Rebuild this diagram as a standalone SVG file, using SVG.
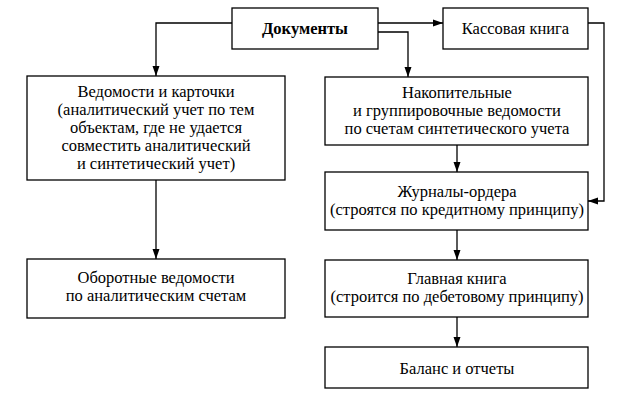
<svg xmlns="http://www.w3.org/2000/svg" width="626" height="410" viewBox="0 0 626 410">
<style>
.n{fill:#fff;stroke:#000;stroke-width:1.3}
text{font-family:'Liberation Serif','Times New Roman',serif;font-size:16.5px;fill:#000;text-anchor:middle}
.b{font-weight:bold}
.c{fill:none;stroke:#000;stroke-width:1.3}
</style>
<defs>
<marker id="a" viewBox="0 0 10 10" refX="10" refY="5" markerWidth="10" markerHeight="10" markerUnits="userSpaceOnUse" orient="auto">
<path d="M0,1.5 L10,5 L0,8.5 Z" fill="#000"/>
</marker>
</defs>
<rect width="626" height="410" fill="#fff"/>
<g id="connectors">
<path class="c" d="M232,23 H156 V76" marker-end="url(#a)"/>
<path class="c" d="M378,23 H443" marker-end="url(#a)"/>
<path class="c" d="M378,32 H408 V77" marker-end="url(#a)"/>
<path class="c" d="M588,23 H604 V201 H588" marker-end="url(#a)"/>
<path class="c" d="M156,180 V259" marker-end="url(#a)"/>
<path class="c" d="M457,145 V172" marker-end="url(#a)"/>
<path class="c" d="M457,230 V260" marker-end="url(#a)"/>
<path class="c" d="M457,317 V347" marker-end="url(#a)"/>
</g>
<g id="docs">
<rect class="n" x="232" y="8" width="146" height="41"/>
<text class="b" x="305" y="34">Документы</text>
</g>
<g id="kassa">
<rect class="n" x="443" y="8" width="145" height="41"/>
<text x="515.5" y="34">Кассовая книга</text>
</g>
<g id="vedomosti">
<rect class="n" x="27" y="76" width="258" height="104"/>
<text x="156" y="97">Ведомости и карточки</text>
<text x="156" y="115">(аналитический учет по тем</text>
<text x="156" y="133">объектам, где не удается</text>
<text x="156" y="151">совместить аналитический</text>
<text x="156" y="169">и синтетический учет)</text>
</g>
<g id="oborot">
<rect class="n" x="27" y="259" width="258" height="59"/>
<text x="156" y="283">Оборотные ведомости</text>
<text x="156" y="301">по аналитическим счетам</text>
</g>
<g id="nakop">
<rect class="n" x="325" y="77" width="263" height="68"/>
<text x="457" y="98">Накопительные</text>
<text x="457" y="116">и группировочные ведомости</text>
<text x="457" y="134">по счетам синтетического учета</text>
</g>
<g id="zhurnal">
<rect class="n" x="325" y="172" width="263" height="58"/>
<text x="457" y="197">Журналы-ордера</text>
<text x="457" y="215">(строятся по кредитному принципу)</text>
</g>
<g id="glavnaya">
<rect class="n" x="325" y="260" width="263" height="57"/>
<text x="457" y="284">Главная книга</text>
<text x="457" y="302">(строится по дебетовому принципу)</text>
</g>
<g id="balans">
<rect class="n" x="325" y="347" width="263" height="41"/>
<text x="457" y="374">Баланс и отчеты</text>
</g>
</svg>
